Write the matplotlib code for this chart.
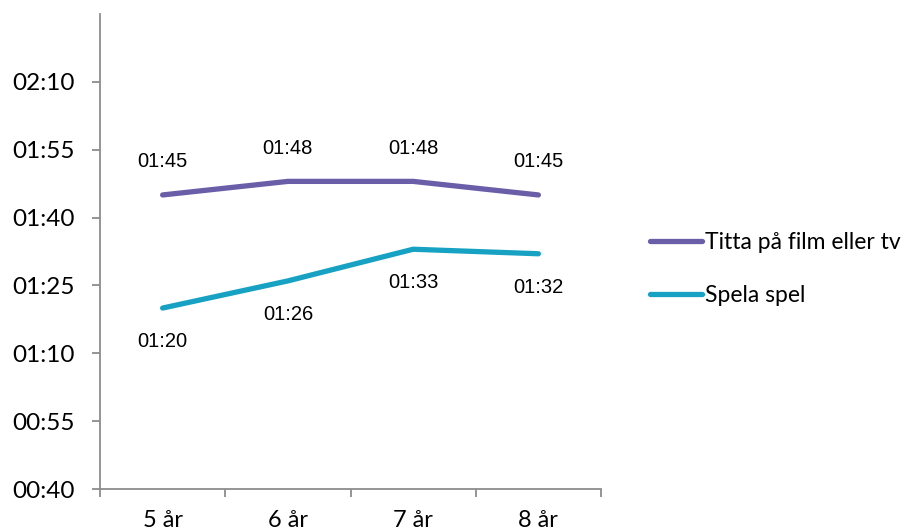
import matplotlib
matplotlib.use("Agg")
import matplotlib.pyplot as plt
from matplotlib.ticker import FixedLocator

categories = ["5 år", "6 år", "7 år", "8 år"]
series_names = ["Titta på film eller tv", "Spela spel"]
titta_min = [105, 108, 108, 105]
spela_min = [80, 86, 93, 92]
y_ticks_min = [40, 55, 70, 85, 100, 115, 130]
colors = ["#6a5ea8", "#17a2c4"]

def fmt(m):
    return f"{m // 60:02d}:{m % 60:02d}"

fig = plt.figure(figsize=(9.21, 5.31), dpi=100)
ax = fig.add_axes([100 / 921, 42 / 531, 501 / 921, 475 / 531])

x = list(range(len(categories)))
tick_font = "Lato"
lbl_font = "Liberation Sans"

for vals, name, col, above in [(titta_min, series_names[0], colors[0], True),
                               (spela_min, series_names[1], colors[1], False)]:
    ax.plot(x, vals, color=col, lw=3.8, solid_capstyle="round", label=name)
    for xi, v in zip(x, vals):
        ax.annotate(fmt(v), (xi, v), xytext=(0, 24 if above else -24),
                    textcoords="offset points", ha="center", va="center",
                    fontsize=14.5, family=lbl_font, color="black")

ax.set_xlim(-0.5, len(categories) - 0.5)
ax.set_ylim(40, 145)
ax.set_yticks(y_ticks_min)
ax.set_yticklabels([fmt(m) for m in y_ticks_min], family=tick_font, fontsize=17.5)
ax.set_xticks(x)
ax.set_xticklabels(categories, family=tick_font, fontsize=17)
ax.xaxis.set_minor_locator(FixedLocator([i - 0.5 for i in range(len(categories) + 1)]))
ax.tick_params(axis="x", which="major", length=0, pad=15)
ax.tick_params(axis="x", which="minor", length=6, width=1.3, color="#8c8c8c", direction="out")
ax.tick_params(axis="y", length=6, width=1.3, color="#8c8c8c", direction="out", pad=12)

for s in ["top", "right"]:
    ax.spines[s].set_visible(False)
for s in ["left", "bottom"]:
    ax.spines[s].set_color("#8c8c8c")
    ax.spines[s].set_linewidth(1.3)

leg = fig.legend(loc="center left", bbox_to_anchor=(629 / 921, 1 - 269 / 531),
                 frameon=False, prop={"family": tick_font, "size": 16.5},
                 handlelength=2.3, handletextpad=0.1, labelspacing=1.4)

fig.savefig("out.png", dpi=100)
